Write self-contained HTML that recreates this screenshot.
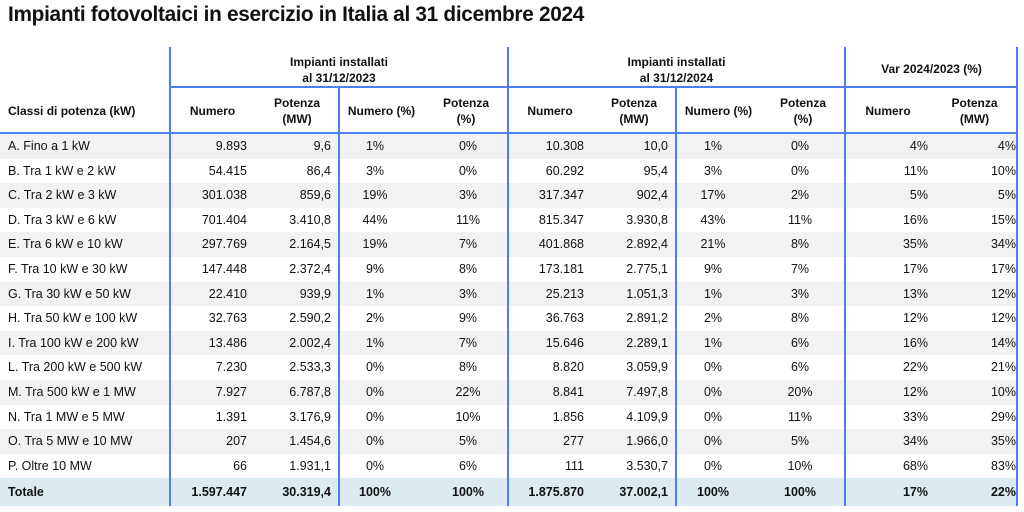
<!DOCTYPE html>
<html><head><meta charset="utf-8"><style>
body{margin:0;width:1024px;height:512px;background:#fff;font-family:"Liberation Sans",sans-serif;position:relative;overflow:hidden;color:#111}
.t{position:absolute;left:8px;top:3px;font-size:20.8px;font-weight:bold;letter-spacing:-0.3px}
.a{position:absolute;white-space:nowrap}
.h{font-weight:bold;font-size:12px;text-align:center;line-height:16px}
.row{position:absolute;left:0;width:1018px;height:24.6px}
.c{position:absolute;font-size:12.5px;line-height:24.6px;white-space:nowrap}
.vl{position:absolute;width:2px;background:#4d7ff0}
.hl{position:absolute;height:2px;background:#4d7ff0}
</style></head><body>
<div class="t">Impianti fotovoltaici in esercizio in Italia al 31 dicembre 2024</div>
<div id="tbl"></div>
<script>
const classes=["A. Fino a 1 kW","B. Tra 1 kW e 2 kW","C. Tra 2 kW e 3 kW","D. Tra 3 kW e 6 kW","E. Tra 6 kW e 10 kW","F. Tra 10 kW e 30 kW","G. Tra 30 kW e 50 kW","H. Tra 50 kW e 100 kW","I. Tra 100 kW e 200 kW","L. Tra 200 kW e 500 kW","M. Tra 500 kW e 1 MW","N. Tra 1 MW e 5 MW","O. Tra 5 MW e 10 MW","P. Oltre 10 MW","Totale"];
const num23=["9.893","54.415","301.038","701.404","297.769","147.448","22.410","32.763","13.486","7.230","7.927","1.391","207","66","1.597.447"];
const pot23=["9,6","86,4","859,6","3.410,8","2.164,5","2.372,4","939,9","2.590,2","2.002,4","2.533,3","6.787,8","3.176,9","1.454,6","1.931,1","30.319,4"];
const nump23=["1%","3%","19%","44%","19%","9%","1%","2%","1%","0%","0%","0%","0%","0%","100%"];
const potp23=["0%","0%","3%","11%","7%","8%","3%","9%","7%","8%","22%","10%","5%","6%","100%"];
const num24=["10.308","60.292","317.347","815.347","401.868","173.181","25.213","36.763","15.646","8.820","8.841","1.856","277","111","1.875.870"];
const pot24=["10,0","95,4","902,4","3.930,8","2.892,4","2.775,1","1.051,3","2.891,2","2.289,1","3.059,9","7.497,8","4.109,9","1.966,0","3.530,7","37.002,1"];
const nump24=["1%","3%","17%","43%","21%","9%","1%","2%","1%","0%","0%","0%","0%","0%","100%"];
const potp24=["0%","0%","2%","11%","8%","7%","3%","8%","6%","6%","20%","11%","5%","10%","100%"];
const varNum=["4%","11%","5%","16%","35%","17%","13%","12%","16%","22%","12%","33%","34%","68%","17%"];
const varPot=["4%","10%","5%","15%","34%","17%","12%","12%","14%","21%","10%","29%","35%","83%","22%"];
const root=document.getElementById('tbl');
function el(cls,style,txt){const d=document.createElement('div');d.className=cls;d.setAttribute('style',style);if(txt!=null)d.textContent=txt;root.appendChild(d);return d;}
const hdrs=[[170,338,"Impianti installati<br>al 31/12/2023",54],[508,337,"Impianti installati<br>al 31/12/2024",54],[845,173,"Var 2024/2023 (%)",61]];
hdrs.forEach((h,i)=>{const d=el('a h',`left:${h[0]}px;width:${h[1]}px;top:${h[3]}px`);d.innerHTML=h[2];

});
const sub=[[170,85,"Numero"],[255,84,"Potenza<br>(MW)"],[339,85,"Numero (%)"],[424,84,"Potenza<br>(%)"],[508,84,"Numero"],[592,84,"Potenza<br>(MW)"],[676,85,"Numero (%)"],[761,84,"Potenza<br>(%)"],[845,86,"Numero"],[931,87,"Potenza<br>(MW)"]];
sub.forEach((s,i)=>{const two=s[2].includes('<br>');const d=el('a h',`left:${s[0]}px;width:${s[1]}px;top:${two?95:103}px`);d.innerHTML=s[2];

});
const lh=el('a h',"left:8px;top:103px;text-align:left","Classi di potenza (kW)");


const RH=24.6,Y0=134;
const cols=[[num23,'r',247],[pot23,'r',331],[nump23,'c',375],[potp23,'c',468],[num24,'r',584],[pot24,'r',668],[nump24,'c',713],[potp24,'c',800],[varNum,'r',928],[varPot,'r',1016]];
classes.forEach((c,i)=>{
 const tot=i===classes.length-1;
 const y=Y0+i*RH;
 const r=el('row',`top:${y}px;height:${tot?28:RH}px;background:${tot?'#ddeaf0':(i%2===0?'#f2f2f2':'#fff')}`);
 
 
 const fw=tot?'font-weight:bold;':'';
 const lb=el('c',`left:8px;top:${y+(tot?2:0)}px;${fw}`,c);
 
 
 cols.forEach(col=>{
  const v=col[0][i];let st;
  if(col[1]==='r')st=`right:${1024-col[2]}px;`;else st=`left:${col[2]-40}px;width:80px;text-align:center;`;
  const d=el('c',st+`top:${y+(tot?2:0)}px;${fw}`,v);
  
  
 });
});
[[170,47],[508,47],[845,47],[1017,47],[339,88],[676,88]].forEach(v=>{const d=el('vl',`left:${v[0]-1}px;top:${v[1]}px;height:${506-v[1]}px`);

});
[[170,86,848],[0,132,1018]].forEach(h=>{const d=el('hl',`left:${h[0]}px;top:${h[1]}px;width:${h[2]}px`);

});
</script>
</body></html>
